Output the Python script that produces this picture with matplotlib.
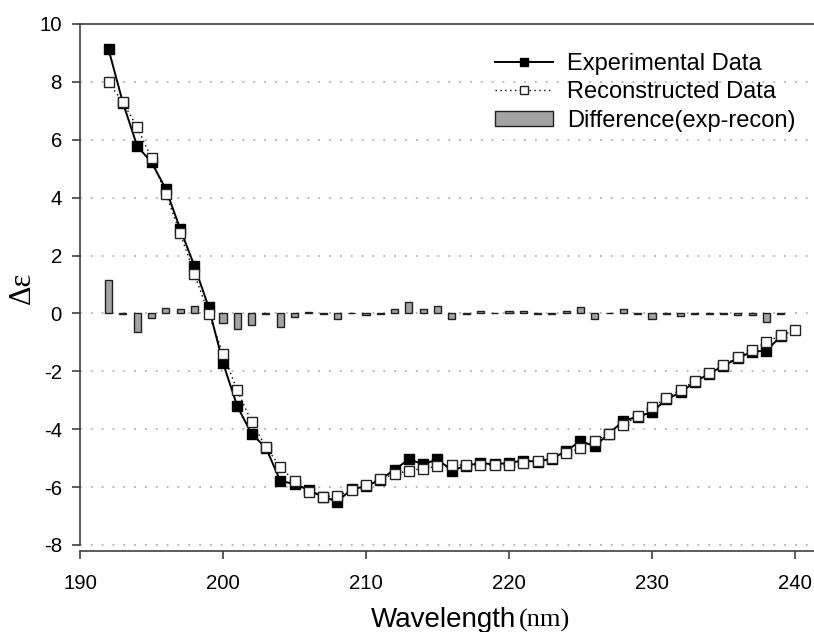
import matplotlib
matplotlib.use("Agg")
import matplotlib.pyplot as plt
from matplotlib.lines import Line2D
from matplotlib.patches import Patch

plt.rcParams['font.family'] = ['Liberation Sans', 'DejaVu Sans']
plt.rcParams['axes.unicode_minus'] = False

# ---- data ----
wl_rec = list(range(192, 241))
reconstructed = [7.98, 7.30, 6.43, 5.37, 4.13, 2.77, 1.37, -0.02, -1.39, -2.66,
                 -3.75, -4.61, -5.30, -5.79, -6.16, -6.33, -6.30, -6.10, -5.93, -5.72,
                 -5.55, -5.44, -5.36, -5.28, -5.24, -5.24, -5.24, -5.24, -5.24, -5.16,
                 -5.10, -5.01, -4.84, -4.64, -4.41, -4.15, -3.86, -3.54, -3.23, -2.94,
                 -2.63, -2.34, -2.06, -1.79, -1.51, -1.28, -0.99, -0.76, -0.59]

wl_exp = list(range(192, 240))
experimental = [9.12, 7.28, 5.78, 5.22, 4.30, 2.93, 1.64, 0.21, -1.71, -3.21,
                -4.16, -4.64, -5.78, -5.90, -6.10, -6.34, -6.50, -6.07, -5.98, -5.74,
                -5.40, -5.04, -5.21, -5.04, -5.43, -5.26, -5.17, -5.22, -5.16, -5.09,
                -5.12, -5.02, -4.75, -4.41, -4.59, -4.15, -3.71, -3.57, -3.41, -2.97,
                -2.73, -2.37, -2.08, -1.81, -1.55, -1.32, -1.29, -0.79]

difference = [1.14, -0.02, -0.65, -0.15, 0.17, 0.16, 0.27, 0.23, -0.32, -0.55,
              -0.41, -0.03, -0.48, -0.11, 0.06, -0.01, -0.20, 0.03, -0.05, -0.02,
              0.15, 0.40, 0.15, 0.24, -0.19, -0.02, 0.07, 0.02, 0.08, 0.07,
              -0.02, -0.01, 0.09, 0.23, -0.18, 0.00, 0.15, -0.03, -0.18, -0.03,
              -0.10, -0.03, -0.02, -0.02, -0.04, -0.04, -0.30, -0.03]

xticks = [190, 200, 210, 220, 230, 240]
yticks = [-8, -6, -4, -2, 0, 2, 4, 6, 8, 10]

# ---- figure ----
W, H = 814, 632
fig = plt.figure(figsize=(W / 100, H / 100), dpi=100)
left_px, right_px, top_px, bot_px = 80, 814, 24, 551.3
ax = fig.add_axes([left_px / W, 1 - bot_px / H, (right_px - left_px) / W, (bot_px - top_px) / H])

ax.set_xlim(190, 190 + (right_px - left_px) / 14.3)
ax.set_ylim(-8.22, 10)

for y in yticks[:-1]:
    ax.axhline(y, color='#b0b0b0', lw=1.3, ls=(0, (1, 5)), zorder=0)

ax.bar(wl_exp, difference, width=0.5, color='#a3a3a3', edgecolor='#202020',
       linewidth=1.0, zorder=2)

ax.plot(wl_exp, experimental, color='black', lw=1.4, marker='s', ms=7,
        mfc='black', mec='black', zorder=3)
ax.plot(wl_rec, reconstructed, color='black', lw=1.0, ls=(0, (1, 2.5)), marker='s', ms=7,
        mfc='white', mec='#222222', mew=1.0, zorder=4)

spine_c = '#404040'
for s in ['left', 'bottom', 'top']:
    ax.spines[s].set_color(spine_c)
    ax.spines[s].set_linewidth(1.2)
ax.spines['right'].set_visible(False)
ax.spines['left'].set_bounds(-8, 10)

ax.set_xticks(xticks)
ax.set_xticklabels([str(t) for t in xticks])
ax.set_yticks(yticks)
ax.set_yticklabels([str(t) for t in yticks])
ax.tick_params(axis='both', direction='out', length=5.5, width=1.2, color=spine_c,
               labelsize=14.7, labelcolor='black')
ax.tick_params(axis='x', pad=11)
ax.tick_params(axis='y', pad=7.5)
ax.tick_params(top=False, right=False)

# axis labels
fig.text(22 / W, 1 - 287.5 / H, 'Δε', family=['Liberation Serif', 'DejaVu Serif'],
         fontsize=22, rotation=90, ha='center', va='center')
fig.text(371 / W, 1 - 627 / H, 'Wavelength', fontsize=20, ha='left', va='baseline')
fig.text(519 / W, 1 - 627 / H, '(nm)', family=['Liberation Serif', 'DejaVu Serif'],
         fontsize=19, ha='left', va='baseline')

handles = [
    Line2D([], [], color='black', lw=1.4, marker='s', ms=6, mfc='black', mec='black'),
    Line2D([], [], color='black', lw=1.0, ls=(0, (1, 2.5)), marker='s', ms=6,
           mfc='white', mec='#222222'),
    Patch(facecolor='#a3a3a3', edgecolor='#202020', linewidth=1.0),
]
labels = ['Experimental Data', 'Reconstructed Data', 'Difference(exp-recon)']
leg = fig.legend(handles, labels, loc='upper left', bbox_to_anchor=(495 / W, 1 - 53 / H),
                 frameon=False, fontsize=17, handlelength=2.45, handletextpad=0.62,
                 labelspacing=0.27, borderpad=0, borderaxespad=0, handleheight=0.65)

fig.savefig('out.png', dpi=100)
